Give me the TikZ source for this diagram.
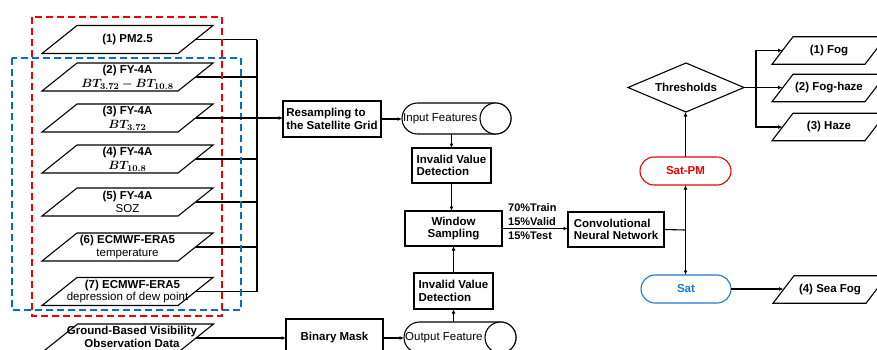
\documentclass[tikz,border=0pt]{standalone}
\usepackage{fontspec}
\setmainfont{Liberation Sans}
\usepackage{amsmath,bm}
\usetikzlibrary{shapes.geometric,shapes.misc,arrows.meta}
\definecolor{myred}{RGB}{240,0,0}
\definecolor{myblue}{RGB}{0,112,192}
\definecolor{satblue}{RGB}{30,120,200}
\tikzset{
  fnt/.style={font=\bfseries\fontsize{11.5}{12.5}\selectfont},
  fntn/.style={font=\fontsize{11.5}{12.5}\selectfont},
  ptext/.style={align=center, inner sep=0pt, fnt},
  boxn/.style={draw, line width=1.2pt, inner sep=0pt, outer sep=0pt, align=left, fnt},
  stadium/.style={rounded rectangle, draw, line width=1.1pt, inner sep=0pt, outer sep=0pt},
  conn/.style={line width=1.1pt},
  paraline/.style={line width=1.1pt, line join=miter},
  arr/.style={line width=1.1pt, -{Latex[length=4.5pt,width=4pt]}},
  reddash/.style={draw=myred, line width=1.5pt, dash pattern=on 7pt off 4pt},
  bluedash/.style={draw=myblue, line width=1.5pt, dash pattern=on 7pt off 4pt},
}
% #1 name, #2 cx, #3 cy, #4 total width, #5 height, #6 slant
\newcommand{\mypara}[6]{%
  \draw[paraline] (#2-#4/2,#3+#5/2) -- (#2+#4/2-#6,#3+#5/2) -- (#2+#4/2,#3-#5/2)
     -- (#2-#4/2+#6,#3-#5/2) -- cycle;
  \coordinate (#1e) at (#2+#4/2-#6/2,#3);
  \coordinate (#1w) at (#2-#4/2+#6/2,#3);
  \coordinate (#1c) at (#2,#3);
}
\newcommand{\btm}[1]{{\fontsize{12.5}{12.5}\selectfont$\bm{#1}$}}
\begin{document}
\begin{tikzpicture}[x=1pt,y=-1pt]
\useasboundingbox (0,0) rectangle (877,349);
% left input parallelograms
\mypara{p1}{127.5}{39.5}{171}{28}{35}
\node[ptext] (p1t) at (p1c) {(1) PM2.5};
\mypara{p2}{127.5}{77}{171}{28}{35}
\node[ptext] (p2t) at (p2c) {(2) FY-4A\\[1.5pt]\btm{BT_{3.72}-BT_{10.8}}};
\mypara{p3}{127.5}{118}{171}{28}{35}
\node[ptext] (p3t) at (p3c) {(3) FY-4A\\[1.5pt]\btm{BT_{3.72}}};
\mypara{p4}{127.5}{159}{171}{28}{35}
\node[ptext] (p4t) at (p4c) {(4) FY-4A\\[1.5pt]\btm{BT_{10.8}}};
\mypara{p5}{127.5}{202}{171}{28}{35}
\node[ptext] (p5t) at (p5c) {(5) FY-4A\\{\mdseries SOZ}};
\mypara{p6}{127.5}{247}{171}{28}{35}
\node[ptext] (p6t) at (p6c) {(6) ECMWF-ERA5\\{\mdseries temperature}};
\mypara{p7}{127.5}{291.5}{171}{28}{35}
\node[ptext] (p7t) at (p7c) {\hspace*{10pt}(7) ECMWF-ERA5\\{\mdseries depression of dew point}};
\mypara{p8}{128}{338}{171}{28}{35}
\node[ptext] (p8t) at (132,337) {Ground-Based Visibility\\Observation Data};
% bus
\coordinate (bus) at (257,0);
\foreach \n in {1,2,4,5,6,7} \draw[conn] (p\n e) -- (p\n e -| bus);
\draw[conn] (p1e -| bus) -- (p7e -| bus);
% dashed groups
\draw[bluedash] (12,58) rectangle (241,310);
\draw[reddash] (32,17) rectangle (222,316);
% middle column
\node[boxn, minimum width=98pt, minimum height=36pt] (res) at (332,119) {Resampling to\\the Satellite Grid};
\draw[arr] (p3e) -- (p3e -| res.west);
\node[stadium, minimum width=109pt, minimum height=31pt] (inf) at (456.5,118.5) {};
\node[fntn, anchor=west, inner sep=0pt] (inft) at ([xshift=1pt]inf.west) {Input Features};
\draw[conn, fill=white] ([xshift=-15.5pt]inf.east) circle[radius=15.5pt];
\draw[arr] (res.east) -- (res.east -| inf.west);
\node[boxn, minimum width=79pt, minimum height=35pt] (iv1) at (451.5,165.5) {Invalid Value\\Detection};
\node[boxn, align=center, minimum width=97pt, minimum height=35pt] (win) at (453.5,228.5) {Window\\Sampling};
\node[boxn, minimum width=79pt, minimum height=36pt] (iv2) at (453.5,291) {Invalid Value\\Detection};
\node[stadium, minimum width=112pt, minimum height=31pt] (outf) at (460,337.5) {};
\node[fntn, anchor=west, inner sep=0pt] (outft) at ([xshift=1pt]outf.west) {Output Feature};
\draw[conn, fill=white] ([xshift=-15.5pt]outf.east) circle[radius=15.5pt];
\node[boxn, align=center, minimum width=97pt, minimum height=38pt] (bm) at (334.5,338) {Binary Mask};
\draw[arr] (p8e) -- (p8e -| bm.west);
\draw[arr] (bm.east) -- (bm.east -| outf.west);
\draw[arr] (inf.south -| iv1.north) -- (iv1.north);
\draw[arr] (iv1.south) -- (iv1.south |- win.north);
\draw[arr] (iv2.north) -- (iv2.north |- win.south);
\draw[arr] (outf.north -| iv2.south) -- (iv2.south);
% CNN
\node[boxn, minimum width=96pt, minimum height=35pt] (cnn) at (616,229.5) {Convolutional\\Neural Network};
\draw[arr] (win.east) -- (win.east -| cnn.west);
\node[anchor=west, align=left, inner sep=0pt, font=\bfseries\fontsize{11}{14}\selectfont] (split) at (508,222) {70\%Train\\15\%Valid\\15\%Test};
% outputs
\node[stadium, draw=myred, text=myred, fnt, minimum width=91pt, minimum height=28pt] (satpm) at (685.5,171) {Sat-PM};
\node[stadium, draw=satblue, text=satblue, fnt, minimum width=90pt, minimum height=28pt] (sat) at (686,289) {Sat};
\coordinate (jn) at (685.5,230);
\draw[conn] (cnn.east) -- (jn);
\draw[arr] (jn) -- (satpm.south);
\draw[arr] (jn) -- (jn |- sat.north);
\node[diamond, draw, line width=1.1pt, inner sep=0pt, outer sep=0pt, aspect=2.4, minimum width=116pt, minimum height=49pt, fnt] (thr) at (686,87.5) {Thresholds};
\draw[arr] (satpm.north) -- (satpm.north |- thr.south);
\mypara{f1}{829}{50.5}{114}{27.5}{21}
\node[ptext] (f1t) at (f1c) {(1) Fog};
\mypara{f2}{829}{88}{114}{27.5}{21}
\node[ptext] (f2t) at (f2c) {(2) Fog-haze};
\mypara{f3}{829}{127}{114}{27.5}{21}
\node[ptext] (f3t) at (f3c) {(3) Haze};
\mypara{f4}{830}{289.5}{114}{27.5}{21}
\node[ptext] (f4t) at (f4c) {(4) Sea Fog};
\coordinate (br) at (756,87.5);
\draw[arr] (thr.east) -- (thr.east -| f2w);
\draw[arr] (br) |- (f1w);
\draw[arr] (br) |- (f3w);
\draw[arr] (sat.east) -- (sat.east -| f4w);
\end{tikzpicture}
\end{document}
